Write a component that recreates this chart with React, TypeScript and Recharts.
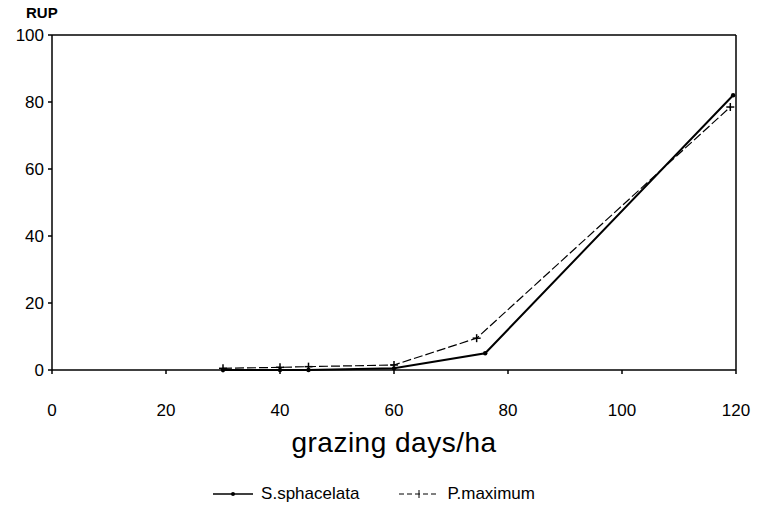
import React from "react";
import {
  LineChart,
  Line,
  XAxis,
  YAxis,
  Legend,
  Label,
  ReferenceLine,
} from "recharts";

const xTicks = [0, 20, 40, 60, 80, 100, 120];
const yTicks = [0, 20, 40, 60, 80, 100];

const sphDays = [30, 40, 45, 60, 76, 119.5];
const sphRup = [0, 0, 0, 0.5, 5, 82];

const maxDays = [30, 40, 45, 60, 74.5, 119];
const maxRup = [0.5, 0.8, 1, 1.5, 9.5, 78.5];

const sphData = sphDays.map((d, i) => ({ days: d, rup: sphRup[i] }));
const maxData = maxDays.map((d, i) => ({ days: d, rup: maxRup[i] }));

const font = "'Liberation Sans', Arial, sans-serif";

const PlusDot = (props: any) => {
  const { cx, cy } = props;
  if (cx == null || cy == null) return null;
  return (
    <g>
      <line x1={cx - 4} y1={cy} x2={cx + 4} y2={cy} stroke="#000" strokeWidth={1.5} />
      <line x1={cx} y1={cy - 4} x2={cx} y2={cy + 4} stroke="#000" strokeWidth={1.5} />
    </g>
  );
};

const SmallDot = (props: any) => {
  const { cx, cy } = props;
  if (cx == null || cy == null) return null;
  return <circle cx={cx} cy={cy} r={2.2} fill="#000" />;
};

const renderLegend = () => (
  <div
    style={{
      display: "flex",
      justifyContent: "center",
      gap: 40,
      fontFamily: font,
      fontSize: 17,
      color: "#000",
    }}
  >
    <div style={{ display: "flex", alignItems: "center" }}>
      <svg width={42} height={10}>
        <line x1={0} y1={5} x2={40} y2={5} stroke="#000" strokeWidth={1.5} />
        <circle cx={20} cy={5} r={2} fill="#000" />
      </svg>
      <span style={{ marginLeft: 6 }}>S.sphacelata</span>
    </div>
    <div style={{ display: "flex", alignItems: "center" }}>
      <svg width={42} height={12}>
        <line x1={0} y1={6} x2={40} y2={6} stroke="#000" strokeWidth={1} strokeDasharray="5 3" />
        <line x1={20} y1={2} x2={20} y2={10} stroke="#000" strokeWidth={1} />
      </svg>
      <span style={{ marginLeft: 6 }}>P.maximum</span>
    </div>
  </div>
);

export default function App() {
  return (
    <div style={{ position: "absolute", left: 0, top: 0, background: "#fff" }}>
      <LineChart
        width={762}
        height={512}
        margin={{ top: 35, right: 26, bottom: 92, left: 12 }}
      >
        <XAxis
          dataKey="days"
          type="number"
          domain={[0, 120]}
          ticks={xTicks}
          allowDuplicatedCategory={false}
          stroke="#000"
          strokeWidth={1.5}
          tickSize={4}
          tickLine={{ stroke: "#000" }}
          tick={{ fill: "#000", fontSize: 17, fontFamily: font, dy: 28 }}
          height={30}
        >
          <Label
            value="grazing days/ha"
            position="bottom"
            offset={32}
            style={{ fill: "#000", fontSize: 28, fontFamily: font, letterSpacing: 0.5 }}
          />
        </XAxis>
        <YAxis
          dataKey="rup"
          type="number"
          domain={[0, 100]}
          ticks={yTicks}
          width={40}
          stroke="#000"
          strokeWidth={1.5}
          tickSize={4}
          tick={{ fill: "#000", fontSize: 17, fontFamily: font, dx: -2 }}
        >
          <Label
            value="RUP"
            position="top"
            offset={17}
            dx={-6}
            style={{ fill: "#000", fontSize: 15, fontWeight: "bold", fontFamily: font, textAnchor: "start" }}
          />
        </YAxis>
        <ReferenceLine y={100} stroke="#000" strokeWidth={1.5} />
        <ReferenceLine x={120} stroke="#000" strokeWidth={1.5} />
        <Legend
          verticalAlign="bottom"
          content={renderLegend}
          wrapperStyle={{ bottom: 8 }}
        />
        <Line
          data={maxData}
          dataKey="rup"
          name="P.maximum"
          stroke="#000"
          strokeWidth={1.2}
          strokeDasharray="9 3"
          dot={<PlusDot />}
          isAnimationActive={false}
        />
        <Line
          data={sphData}
          dataKey="rup"
          name="S.sphacelata"
          stroke="#000"
          strokeWidth={2}
          dot={<SmallDot />}
          isAnimationActive={false}
        />
      </LineChart>
    </div>
  );
}
